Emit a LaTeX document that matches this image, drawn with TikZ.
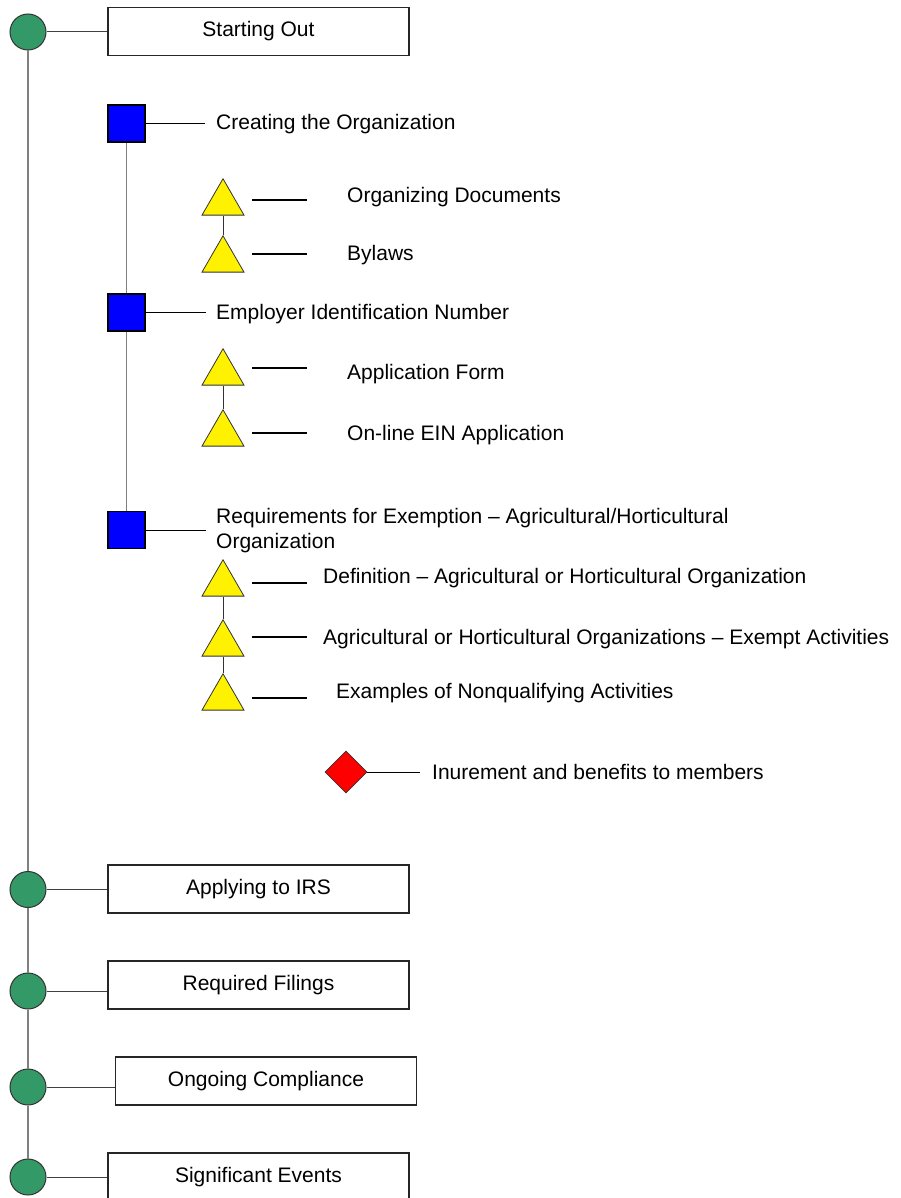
\documentclass[tikz,border=0pt]{standalone}
\usepackage{fontspec}
\setmainfont{Liberation Sans}
\usetikzlibrary{shapes.geometric}
\definecolor{vgreen}{HTML}{339966}
\begin{document}
\begin{tikzpicture}[x=1pt,y=-1pt,
 every node/.style={font=\fontsize{21}{25}\selectfont},
 phase/.style={circle,draw=black!80,fill=vgreen,minimum size=36,inner sep=0,line width=1},
 phasebox/.style={draw=black!85,fill=white,minimum width=301,minimum height=48,inner sep=0,line width=1.2},
 sq/.style={draw=black,fill=blue,minimum size=37,inner sep=0,line width=1.2},
 tri/.style={regular polygon,regular polygon sides=3,draw=black!80,fill=yellow,minimum size=48.5,inner sep=0,line width=0.8},
 dia/.style={diamond,draw=black!80,fill=red,minimum size=42,inner sep=0,line width=0.8},
 lbl/.style={anchor=base west,inner sep=0},
 spine/.style={draw=gray,line width=1.2},
 link/.style={draw=black!75,line width=1},
 sqlink/.style={draw=black,line width=0.9},
 tline/.style={draw=black,line width=2},
 vlink/.style={draw=black!80,line width=0.8},
]
\useasboundingbox (0,0) rectangle (901,1198);
% phases
\node[phase] (c1) at (28,32) {};
\node[phasebox] (b1) at (258.5,31.5) {Starting Out};
\node[phase] (c2) at (28,889.5) {};
\node[phasebox] (b2) at (258.5,889) {Applying to IRS};
\node[phase] (c3) at (28,991) {};
\node[phasebox] (b3) at (258.5,985) {Required Filings};
\node[phase] (c4) at (28,1087) {};
\node[phasebox] (b4) at (266,1081) {Ongoing Compliance};
\node[phase] (c5) at (28,1177) {};
\node[phasebox] (b5) at (258.5,1177) {Significant Events};
\draw[spine] (c1.south) -- (c2.north);
\draw[spine] (c2.south) -- (c3.north);
\draw[spine] (c3.south) -- (c4.north);
\draw[spine] (c4.south) -- (c5.north);
\foreach \c/\b in {c1/b1,c2/b2,c3/b3,c4/b4,c5/b5}
  \draw[link] (\c.east) -- (\b.west |- \c.east);
% squares
\node[sq] (s1) at (126.5,123.5) {};
\node[sq] (s2) at (126.5,312.5) {};
\node[sq] (s3) at (126.5,530) {};
\draw[spine] (s1.south) -- (s2.north);
\draw[spine] (s2.south) -- (s3.north);
\draw[sqlink] (s1.east) -- +(59,0);
\draw[sqlink] (s2.east) -- +(60,0);
\draw[sqlink] (s3.east) -- +(60,0);
\node[lbl] (l1) at (216,129.5) {Creating the Organization};
\node[lbl] (l2) at (216,319) {Employer Identification Number};
\node[lbl,align=left] (l3) at (216,548) {Requirements for Exemption -- Agricultural/Horticultural\\Organization};
% triangles
\node[tri] (t1) at (223,203) {};
\node[tri] (t2) at (223,260) {};
\node[tri] (t3) at (223,373) {};
\node[tri] (t4) at (223,434) {};
\node[tri] (t5) at (223,584) {};
\node[tri] (t6) at (223,644) {};
\node[tri] (t7) at (223,698) {};
\draw[vlink] (t1.south) -- (t2.north);
\draw[vlink] (t3.south) -- (t4.north);
\draw[vlink] (t5.south) -- (t6.north);
\draw[vlink] (t6.south) -- (t7.north);
\draw[tline] ([shift={(29,-3)}]t1.center) -- +(55,0);
\draw[tline] ([shift={(29,-6)}]t2.center) -- +(55,0);
\draw[tline] ([shift={(29,-5)}]t3.center) -- +(55,0);
\draw[tline] ([shift={(29,-1)}]t4.center) -- +(55,0);
\draw[tline] ([shift={(29,-1)}]t5.center) -- +(55,0);
\draw[tline] ([shift={(29,-7)}]t6.center) -- +(55,0);
\draw[tline] ([shift={(29,0)}]t7.center) -- +(55,0);
\node[lbl] (k1) at (347,203) {Organizing Documents};
\node[lbl] (k2) at (347,260) {Bylaws};
\node[lbl] (k3) at (347,379) {Application Form};
\node[lbl] (k4) at (347,440) {On-line EIN Application};
\node[lbl] (k5) at (323,583) {Definition -- Agricultural or Horticultural Organization};
\node[lbl] (k6) at (323,644) {Agricultural or Horticultural Organizations -- Exempt Activities};
\node[lbl] (k7) at (336,698) {Examples of Nonqualifying Activities};
% diamond
\node[dia] (d1) at (346,772) {};
\draw[sqlink] (d1.east) -- +(53,0);
\node[lbl] (k8) at (432,779) {Inurement and benefits to members};
\end{tikzpicture}
\end{document}
